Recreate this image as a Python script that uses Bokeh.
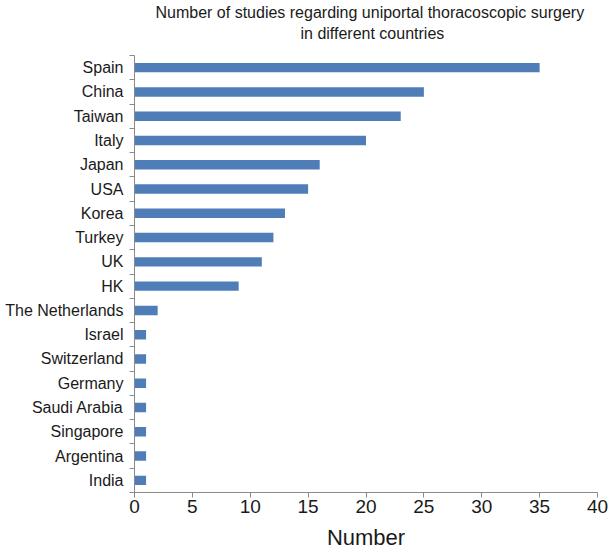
from bokeh.plotting import figure
from bokeh.models import Range1d, FixedTicker, Title, ColumnDataSource
from bokeh.embed import file_html
from bokeh.resources import INLINE

countries = ["Spain", "China", "Taiwan", "Italy", "Japan", "USA", "Korea", "Turkey",
             "UK", "HK", "The Netherlands", "Israel", "Switzerland", "Germany",
             "Saudi Arabia", "Singapore", "Argentina", "India"]
studies = [35, 25, 23, 20, 16, 15, 13, 12, 11, 9, 2, 1, 1, 1, 1, 1, 1, 1]
x_ticks = [0, 5, 10, 15, 20, 25, 30, 35, 40]
title_lines = ["Number of studies regarding uniportal thoracoscopic surgery",
               "in different countries"]
x_label = "Number"

n = len(countries)
positions = [n - 1 - i for i in range(n)]
src = ColumnDataSource(dict(y=positions, v=studies, name=countries))

FONT = "Liberation Sans"
TEXT = "#1a1a1a"
AXIS = "#8a8a8a"

p = figure(width=608, height=555, output_backend="svg", toolbar_location=None,
           x_range=Range1d(0, 40), y_range=Range1d(-0.5, n - 0.5),
           min_border_left=134, min_border_right=11, min_border_top=55,
           min_border_bottom=63, title=None)

p.hbar(y="y", right="v", left=0, height=0.39, source=src,
       fill_color="#4F7DB8", line_color=None)

# spacer between the frame and the two title lines
spacer = Title(text=" ", text_font_size="1px", standoff=9)
t2 = Title(text=title_lines[1], align="left", offset=166,
           text_font=FONT, text_font_size="16px", text_font_style="normal",
           text_color=TEXT, standoff=4)
t1 = Title(text=title_lines[0], align="left", offset=21,
           text_font=FONT, text_font_size="16px", text_font_style="normal",
           text_color=TEXT, standoff=0)
p.add_layout(spacer, "above")
p.add_layout(t2, "above")
p.add_layout(t1, "above")

p.xgrid.visible = False
p.ygrid.visible = False
p.outline_line_color = None

xa = p.xaxis[0]
xa.ticker = FixedTicker(ticks=x_ticks)
xa.axis_label = x_label
xa.axis_label_text_font = FONT
xa.axis_label_text_font_size = "22px"
xa.axis_label_text_font_style = "normal"
xa.axis_label_text_color = TEXT
xa.axis_label_standoff = 9
xa.major_label_text_font = FONT
xa.major_label_text_font_size = "19px"
xa.major_label_text_color = TEXT
xa.major_label_standoff = 2
xa.axis_line_color = AXIS
xa.major_tick_line_color = AXIS
xa.major_tick_out = 5
xa.major_tick_in = 0
xa.minor_tick_line_color = None

ya = p.yaxis[0]
ya.ticker = FixedTicker(ticks=positions, minor_ticks=[k - 0.5 for k in range(n + 1)])
ya.major_label_overrides = {pos: name for pos, name in zip(positions, countries)}
ya.major_label_text_font = FONT
ya.major_label_text_font_size = "16px"
ya.major_label_text_color = TEXT
ya.major_label_standoff = 6
ya.axis_line_color = AXIS
ya.major_tick_out = 0
ya.major_tick_in = 0
ya.major_tick_line_color = None
ya.minor_tick_line_color = AXIS
ya.minor_tick_out = 5
ya.minor_tick_in = 0

open("out.html", "w").write(file_html(p, INLINE))
